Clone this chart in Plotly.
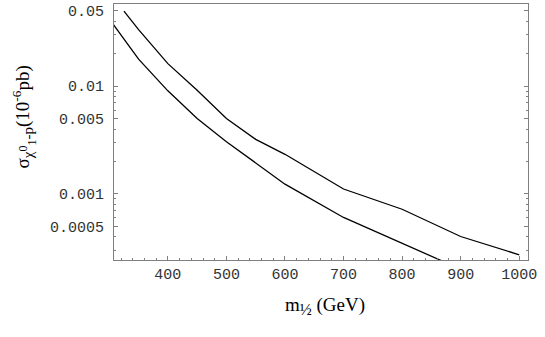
import plotly.graph_objects as go

# data (m_1/2 in GeV, cross section in 1e-6 pb)
m_upper = [325, 350, 400, 450, 500, 550, 600, 700, 800, 900, 1000]
sig_upper = [0.0498, 0.0335, 0.0162, 0.00918, 0.00502, 0.00321, 0.00233,
             0.00111, 0.00072, 0.000402, 0.000272]

m_lower = [300, 350, 400, 450, 500, 550, 600, 700, 800, 900]
sig_lower = [0.042, 0.0178, 0.00905, 0.00502, 0.00305, 0.00192, 0.00123,
             0.000604, 0.00035, 0.0002]

x_ticks = [400, 500, 600, 700, 800, 900, 1000]
y_ticks = [0.0005, 0.001, 0.005, 0.01, 0.05]
y_tick_text = ["0.0005", "0.001", "0.005", "0.01", "0.05"]

x_minor = [v for v in range(320, 1020, 20) if v % 100]
y_minor = [k * 10.0 ** e for e in (-4, -3, -2) for k in range(2, 10)]

fig = go.Figure()
for xs, ys in [(m_upper, sig_upper), (m_lower, sig_lower)]:
    fig.add_trace(go.Scatter(x=xs, y=ys, mode="lines",
                             line=dict(color="black", width=1.3),
                             showlegend=False))

frame = "#7f7f7f"
tickfont = dict(family="Liberation Mono", size=15, color="#333")

fig.update_xaxes(range=[308, 1015], tickvals=x_ticks, ticks="inside",
                 ticklen=4, tickcolor=frame, showline=True, linecolor=frame,
                 linewidth=1, mirror=True, showgrid=False, zeroline=False,
                 tickfont=tickfont, automargin=False,
                 minor=dict(tickmode="array", tickvals=x_minor,
                            ticks="inside", ticklen=2, tickcolor=frame))
fig.update_yaxes(type="log", range=[-3.614, -1.237], tickvals=y_ticks,
                 ticktext=y_tick_text, ticks="inside", ticklen=4,
                 tickcolor=frame, showline=True, linecolor=frame, linewidth=1,
                 mirror="ticks", showgrid=False, zeroline=False,
                 tickfont=tickfont, ticklabelstandoff=6, automargin=False,
                 minor=dict(tickmode="array", tickvals=y_minor,
                            ticks="inside", ticklen=2, tickcolor=frame))

ytitle = ('σ<sub><span style="font-size:15px">χ</span>'
          '<sup><span style="font-size:12px">0</span></sup>'
          '<sub><span style="font-size:12px">1</span></sub>'
          '<span style="font-size:15px">-p</span></sub>'
          '(10<sup>-6</sup>pb)')
xtitle = 'm<sub><span style="font-size:16px">½</span></sub> (GeV)'

fig.update_layout(
    width=545, height=337,
    margin=dict(l=114, r=17, t=4, b=77),
    paper_bgcolor="white", plot_bgcolor="white",
    annotations=[
        dict(text=xtitle, xref="paper", yref="paper",
             x=0.51, y=-0.18, xanchor="center", yanchor="middle",
             showarrow=False,
             font=dict(family="Liberation Serif", size=19, color="black")),
        dict(text=ytitle,
             xref="paper", yref="paper", x=-0.218, y=0.56,
             xanchor="center", yanchor="middle", textangle=-90,
             showarrow=False,
             font=dict(family="Liberation Serif", size=19, color="black")),
    ],
)

# drop the page's default body margin so the figure sits at the window corner
fig.write_html("out.html", config={"displayModeBar": False},
               post_script="document.body.style.margin='0';")
